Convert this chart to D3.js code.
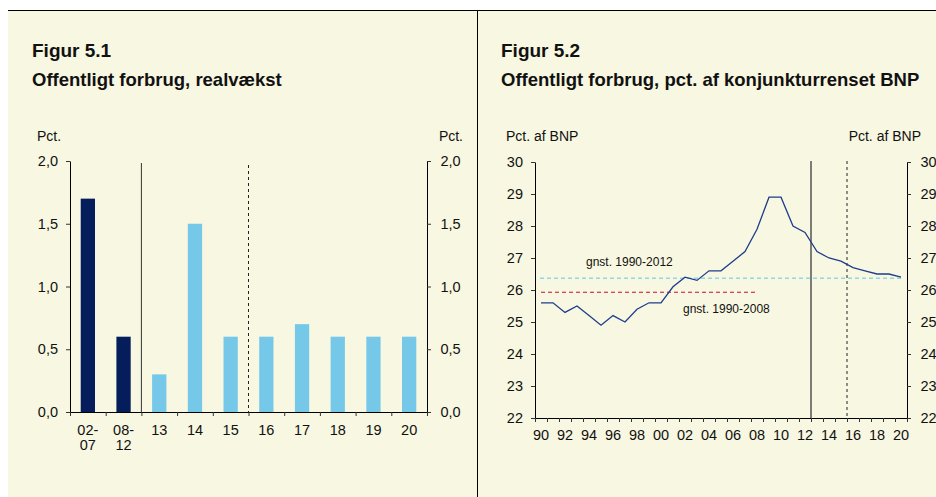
<!DOCTYPE html>
<html><head><meta charset="utf-8">
<script src="https://cdn.jsdelivr.net/npm/d3@7"></script>
<style>
html,body{margin:0;padding:0;background:#fff;}
svg{display:block;}
text{font-family:"Liberation Sans",Arial,sans-serif;fill:#111;}
</style></head>
<body>
<svg id="c" width="936" height="497"></svg>
<script>
// ---- Data: Figur 5.1 ----
const barCategories = [["02-","07"],["08-","12"],["13"],["14"],["15"],["16"],["17"],["18"],["19"],["20"]];
const barValues = [1.7, 0.6, 0.3, 1.5, 0.6, 0.6, 0.7, 0.6, 0.6, 0.6];
const barHistoric = [true, true, false, false, false, false, false, false, false, false];
const barTicks = [0, 0.5, 1.0, 1.5, 2.0];

// ---- Data: Figur 5.2 ----
const years = d3.range(1990, 2021);
const shareValues = [25.6, 25.6, 25.3, 25.5, 25.2, 24.9, 25.2, 25.0, 25.4, 25.6,
                     25.6, 26.1, 26.4, 26.3, 26.6, 26.6, 26.9, 27.2, 27.9, 28.9,
                     28.9, 28.0, 27.8, 27.2, 27.0, 26.9, 26.7, 26.6, 26.5, 26.5, 26.4];
const avg1990_2012 = 26.37;
const avg1990_2008 = 25.93;
const lineTicks = [22, 23, 24, 25, 26, 27, 28, 29, 30];

const svg = d3.select("#c");
const cream = "#f8f7e1";

// panels background and borders
svg.append("rect").attr("x", 8).attr("y", 10).attr("width", 928).attr("height", 487).attr("fill", cream);
svg.append("line").attr("x1", 8).attr("x2", 936).attr("y1", 10.5).attr("y2", 10.5).attr("stroke", "#000").attr("stroke-width", 1);
svg.append("line").attr("x1", 477.5).attr("x2", 477.5).attr("y1", 10).attr("y2", 497).attr("stroke", "#000").attr("stroke-width", 1);

// titles
function titles(x, t1, t2) {
  svg.append("text").attr("x", x).attr("y", 57).attr("font-size", 19).attr("font-weight", "bold").text(t1);
  svg.append("text").attr("x", x).attr("y", 86).attr("font-size", 18.5).attr("font-weight", "bold").text(t2);
}
titles(32, "Figur 5.1", "Offentligt forbrug, realvækst");
titles(501, "Figur 5.2", "Offentligt forbrug, pct. af konjunkturrenset BNP");

const commaFmt = d => d3.format(".1f")(d).replace(".", ",");

function styleAxis(g) {
  g.select(".domain").attr("stroke", "#000");
  g.selectAll(".tick line").attr("stroke", "#333");
  g.selectAll(".tick text").attr("font-family", "'Liberation Sans',Arial,sans-serif").attr("font-size", 14.5).attr("fill", "#111");
}

// ================= Figur 5.1 =================
{
  const L = 70, R = 427, T = 161, B = 412;
  const y = d3.scaleLinear().domain([0, 2]).range([B, T]);
  const x = d3.scaleBand().domain(d3.range(barValues.length)).range([L, R]).paddingInner(0.6).paddingOuter(0.3);
  const xb = d3.scaleLinear().domain([0, barValues.length]).range([L, R]);

  // bars
  svg.append("g").selectAll("rect").data(barValues).join("rect")
    .attr("x", (d, i) => x(i)).attr("width", x.bandwidth())
    .attr("y", d => y(d)).attr("height", d => B - y(d))
    .attr("fill", (d, i) => barHistoric[i] ? "#061d5c" : "#76c8e8");

  // vertical separators
  svg.append("line").attr("x1", xb(2)).attr("x2", xb(2)).attr("y1", 163).attr("y2", B)
    .attr("stroke", "#333").attr("stroke-width", 1);
  svg.append("line").attr("x1", xb(5)).attr("x2", xb(5)).attr("y1", 165).attr("y2", B)
    .attr("stroke", "#222").attr("stroke-width", 1).attr("stroke-dasharray", "3,3");

  // axes
  const gl = svg.append("g").attr("transform", `translate(${L},0)`)
    .call(d3.axisLeft(y).tickValues(barTicks).tickFormat(commaFmt).tickSize(4).tickSizeOuter(0).tickPadding(8));
  styleAxis(gl);
  const gr = svg.append("g").attr("transform", `translate(${R},0)`)
    .call(d3.axisRight(y).tickValues(barTicks).tickFormat(commaFmt).tickSize(4).tickSizeOuter(0).tickPadding(9.5));
  styleAxis(gr);
  const gb = svg.append("g").attr("transform", `translate(0,${B})`)
    .call(d3.axisBottom(xb).tickValues(d3.range(barValues.length + 1)).tickFormat("").tickSize(4).tickSizeOuter(0));
  styleAxis(gb);
  const gx = svg.append("g").attr("transform", `translate(0,${B})`)
    .call(d3.axisBottom(x).tickSize(0).tickFormat("").tickPadding(0));
  gx.select(".domain").remove();
  gx.selectAll(".tick").each(function(i) {
    const t = d3.select(this).append("text").attr("text-anchor", "middle")
      .attr("font-size", 14.5).attr("fill", "#111");
    barCategories[i].forEach((s, k) => t.append("tspan").attr("x", 0).attr("y", 23 + k * 15).text(s));
  });

  svg.append("text").attr("x", 37).attr("y", 141).attr("font-size", 14).text("Pct.");
  svg.append("text").attr("x", 463).attr("y", 141).attr("font-size", 14).attr("text-anchor", "end").text("Pct.");
}

// ================= Figur 5.2 =================
{
  const L = 535, R = 907, T = 162, B = 418;
  const y = d3.scaleLinear().domain([22, 30]).range([B, T]);
  const x = d3.scaleBand().domain(years).range([L, R]);
  const xb = d3.scaleLinear().domain([0, years.length]).range([L, R]);
  const cx = d => x(d) + x.bandwidth() / 2;

  // vertical separators
  svg.append("line").attr("x1", xb(23)).attr("x2", xb(23)).attr("y1", 161).attr("y2", B)
    .attr("stroke", "#555").attr("stroke-width", 1.5);
  svg.append("line").attr("x1", xb(26)).attr("x2", xb(26)).attr("y1", 161).attr("y2", B)
    .attr("stroke", "#222").attr("stroke-width", 1).attr("stroke-dasharray", "3,3");

  // average lines
  svg.append("line").attr("x1", cx(1990) - 1).attr("x2", cx(2020)).attr("y1", y(avg1990_2012)).attr("y2", y(avg1990_2012))
    .attr("stroke", "#5cc6ee").attr("stroke-width", 1).attr("stroke-dasharray", "4,3");
  svg.append("line").attr("x1", cx(1990)).attr("x2", cx(2008)).attr("y1", y(avg1990_2008)).attr("y2", y(avg1990_2008))
    .attr("stroke", "#c8102e").attr("stroke-width", 1).attr("stroke-dasharray", "4,3");

  // main line
  const line = d3.line().x((d, i) => cx(years[i])).y(d => y(d));
  svg.append("path").datum(shareValues).attr("d", line)
    .attr("fill", "none").attr("stroke", "#1f3c8c").attr("stroke-width", 1.3);

  // annotations
  svg.append("text").attr("x", 586).attr("y", 266).attr("font-family", "'Open Sans',sans-serif").attr("font-size", 12).attr("fill", "#222").text("gnst. 1990-2012");
  svg.append("text").attr("x", 683).attr("y", 313).attr("font-family", "'Open Sans',sans-serif").attr("font-size", 12).attr("fill", "#222").text("gnst. 1990-2008");

  // axes
  const gl = svg.append("g").attr("transform", `translate(${L},0)`)
    .call(d3.axisLeft(y).tickValues(lineTicks).tickFormat(d3.format("d")).tickSize(4).tickSizeOuter(0).tickPadding(8));
  styleAxis(gl);
  const gr = svg.append("g").attr("transform", `translate(${R},0)`)
    .call(d3.axisRight(y).tickValues(lineTicks).tickFormat(d3.format("d")).tickSize(4).tickSizeOuter(0).tickPadding(9.5));
  styleAxis(gr);
  const gb = svg.append("g").attr("transform", `translate(0,${B})`)
    .call(d3.axisBottom(xb).tickValues(d3.range(years.length + 1)).tickFormat("").tickSize(4).tickSizeOuter(0));
  styleAxis(gb);
  const gx = svg.append("g").attr("transform", `translate(0,${B})`)
    .call(d3.axisBottom(x).tickValues(years.filter(d => d % 2 === 0)).tickFormat(d => String(d).slice(2)).tickSize(0).tickPadding(12));
  gx.select(".domain").remove();
  styleAxis(gx);

  svg.append("text").attr("x", 506).attr("y", 141).attr("font-size", 14).text("Pct. af BNP");
  svg.append("text").attr("x", 921).attr("y", 141).attr("font-size", 14).attr("text-anchor", "end").text("Pct. af BNP");
}
</script>
</body></html>
